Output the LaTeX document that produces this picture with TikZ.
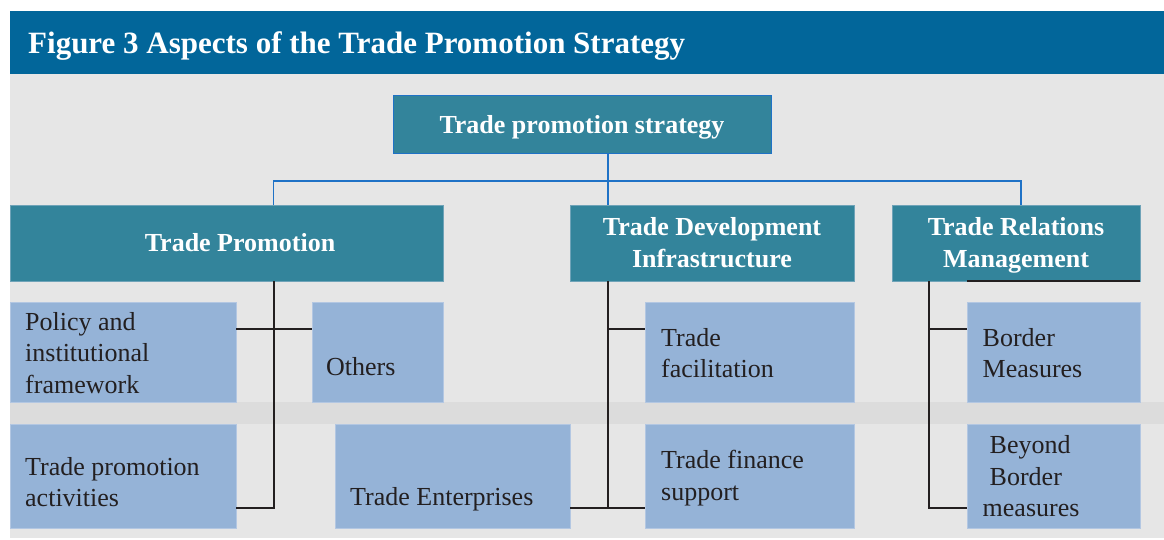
\documentclass[tikz,border=0pt]{standalone}
\usepackage{fontspec}
\setmainfont{Liberation Serif}
\usetikzlibrary{calc}

\definecolor{titlebar}{HTML}{02669A}
\definecolor{panel}{HTML}{E6E6E6}
\definecolor{band}{HTML}{DCDCDC}
\definecolor{headfill}{HTML}{33849B}
\definecolor{headedge}{HTML}{6FA3B8}
\definecolor{itemfill}{HTML}{95B3D7}
\definecolor{itemedge}{HTML}{B3C7E2}
\definecolor{busblue}{HTML}{1F72C6}
\definecolor{ink}{HTML}{231F20}

\newcommand{\linesof}[2]{\begin{tabular}[t]{@{}#1@{}}#2\end{tabular}}

\tikzset{
  headbox/.style={draw=headedge, line width=0.8pt, fill=headfill, inner sep=0pt, outer sep=0pt, anchor=north west},
  rootbox/.style={headbox, draw=busblue},
  itembox/.style={draw=itemedge, line width=0.8pt, fill=itemfill, inner sep=0pt, outer sep=0pt, anchor=north west},
  headtext/.style={inner sep=0pt, anchor=base, text=white, font=\fontsize{26}{32}\selectfont\bfseries},
  itemtext/.style={inner sep=0pt, anchor=base west, text=ink, font=\fontsize{26}{31.7}\selectfont},
  bus/.style={draw=busblue, line width=1.5pt},
  link/.style={draw=ink, line width=1.8pt}
}

\begin{document}
\begin{tikzpicture}[x=1pt, y=-1pt]
\useasboundingbox (0,0) rectangle (1164,539);
\fill[white] (0,0) rectangle (1164,539);

% panel, title bar and the shaded band between the two rows
\fill[panel] (10,73) rectangle (1164,538);
\fill[titlebar] (10,11) rectangle (1164,73.5);
\fill[band] (10,402) rectangle (1164,423.5);
\node[inner sep=0pt, anchor=base west, text=white, font=\fontsize{31}{36}\selectfont\bfseries]
  (title) at (28,53.3) {Figure 3 Aspects of the Trade Promotion Strategy};

% boxes
\node[rootbox, minimum width=378pt, minimum height=58pt] (root) at (393,95) {};
\node[headbox, minimum width=433pt, minimum height=76pt] (tp)  at (10,205) {};
\node[headbox, minimum width=284pt, minimum height=76pt] (tdi) at (570,205) {};
\node[headbox, minimum width=248pt, minimum height=76pt] (trm) at (892,205) {};

\node[itembox, minimum width=226pt, minimum height=100pt] (pol) at (10,302) {};
\node[itembox, minimum width=131pt, minimum height=100pt] (oth) at (312,302) {};
\node[itembox, minimum width=226pt, minimum height=104pt] (tpa) at (10,424) {};
\node[itembox, minimum width=235pt, minimum height=104pt] (ent) at (335,424) {};
\node[itembox, minimum width=209pt, minimum height=100pt] (fac) at (645,302) {};
\node[itembox, minimum width=209pt, minimum height=104pt] (fin) at (645,424) {};
\node[itembox, minimum width=173pt, minimum height=100pt] (bor) at (967,302) {};
\node[itembox, minimum width=173pt, minimum height=104pt] (bey) at (967,424) {};

% box labels
\node[headtext] (rootTxt) at (582,133.3) {Trade promotion strategy};
\node[headtext] (tpTxt)  at (240,251.7) {Trade Promotion};
\node[headtext] (tdiTxt) at (712,235) {\linesof{c}{Trade Development\\Infrastructure}};
\node[headtext] (trmTxt) at (1016,235) {\linesof{c}{Trade Relations\\Management}};

\node[itemtext] (polTxt) at (25,330) {\linesof{l}{Policy and\\institutional\\framework}};
\node[itemtext] (othTxt) at (326,375) {Others};
\node[itemtext] (tpaTxt) at (25,475) {\linesof{l}{Trade promotion\\activities}};
\node[itemtext] (entTxt) at (350,505) {Trade Enterprises};
\node[itemtext] (facTxt) at (661,346) {\linesof{l}{Trade\\facilitation}};
\node[itemtext] (finTxt) at (661,468.3) {\linesof{l}{Trade finance\\support}};
\node[itemtext] (borTxt) at (982.5,346) {\linesof{l}{Border\\Measures}};
\node[itemtext] (beyTxt) at (982.5,453.3) {\linesof{l}{\hspace{7pt}Beyond\\\hspace{7pt}Border\\measures}};

% connector positions
\coordinate (hub)  at (608,181);
\coordinate (tpx)  at (273.6,0);
\coordinate (tdix) at (608,0);
\coordinate (trmx) at (1021,0);
\coordinate (trmb) at (929,0);
\coordinate (uprow)  at (0,329);
\coordinate (lowrow) at (0,508);

% top-level distribution lines
\draw[bus] (root.south -| hub) -- (tdi.north -| hub);
\draw[bus] (tp.north -| tpx) -- (tpx |- hub) -- (trmx |- hub) -- (trm.north -| trmx);

% Trade Promotion branch
\draw[link] (tp.south -| tpx) -- (tpx |- lowrow) -- (tpa.east |- lowrow);
\draw[link] (pol.east |- uprow) -- (oth.west |- uprow);

% Trade Development Infrastructure branch
\draw[link] (tdi.south -| tdix) -- (tdix |- lowrow);
\draw[link] (tdix |- uprow) -- (fac.west |- uprow);
\draw[link] (ent.east |- lowrow) -- (fin.west |- lowrow);

% Trade Relations Management branch
\draw[link] (trm.south -| trmb) -- (trmb |- lowrow) -- (bey.west |- lowrow);
\draw[link] (trmb |- uprow) -- (bor.west |- uprow);
\draw[link] (trm.south -| bor.west) -- (trm.south east);
\end{tikzpicture}
\end{document}
